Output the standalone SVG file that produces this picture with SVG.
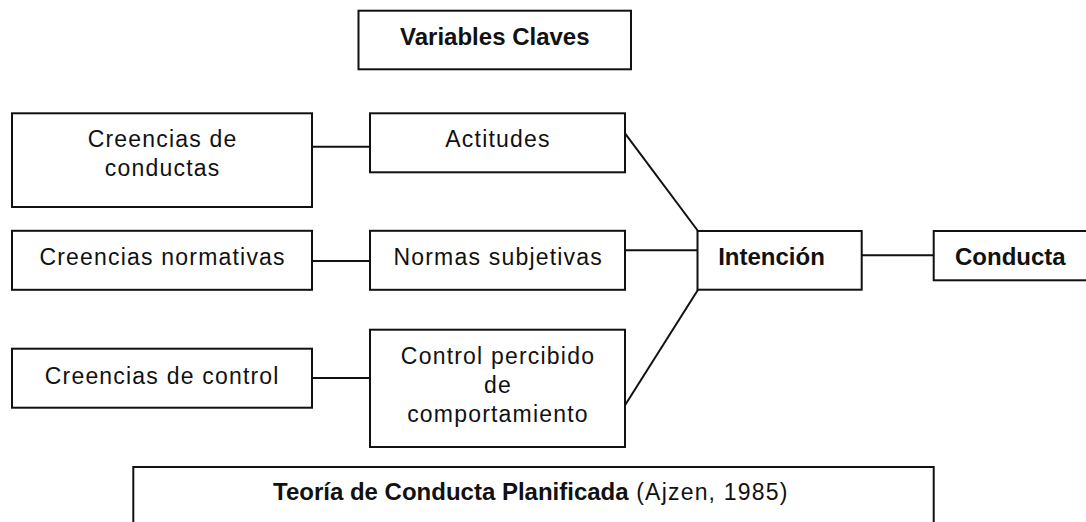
<svg xmlns="http://www.w3.org/2000/svg" width="1086" height="522" viewBox="0 0 1086 522">
<style>
.box{fill:#fff;stroke:#111;stroke-width:2}
.reg{font-family:"Liberation Sans",Arial,sans-serif;font-size:23px;letter-spacing:1.2px;fill:#111}
.bold{font-family:"Liberation Sans",Arial,sans-serif;font-size:24px;font-weight:bold;fill:#111}
.mid{text-anchor:middle}
.conn{stroke:#111;stroke-width:2;fill:none}
</style>
<rect width="1086" height="522" fill="#fff"/>
<g id="connectors">
<line class="conn" x1="312" y1="146.7" x2="373.5" y2="146.7"/>
<line class="conn" x1="312" y1="261" x2="370" y2="261"/>
<line class="conn" x1="312" y1="378" x2="370" y2="378"/>
<line class="conn" x1="625" y1="133.3" x2="698" y2="231"/>
<line class="conn" x1="625" y1="250.3" x2="698" y2="250.3"/>
<line class="conn" x1="625" y1="405.3" x2="698" y2="289.7"/>
<line class="conn" x1="861.7" y1="255.3" x2="933.7" y2="255.3"/>
</g>
<g id="variables-claves">
<rect class="box" x="358.5" y="10.7" width="272.5" height="58.6"/>
<text class="bold mid" x="494.8" y="45">Variables Claves</text>
</g>
<g id="creencias-conductas">
<rect class="box" x="12" y="113.3" width="300" height="93.7"/>
<text class="reg mid" x="162.6" y="147.3">Creencias de</text>
<text class="reg mid" x="162.6" y="175.7">conductas</text>
</g>
<g id="actitudes">
<rect class="box" x="370" y="113.3" width="255" height="59"/>
<text class="reg mid" x="498" y="146.7">Actitudes</text>
</g>
<g id="creencias-normativas">
<rect class="box" x="12" y="230.8" width="300" height="59"/>
<text class="reg mid" x="162.6" y="264.8">Creencias normativas</text>
</g>
<g id="normas-subjetivas">
<rect class="box" x="370" y="230.8" width="255" height="59"/>
<text class="reg mid" x="498.2" y="265">Normas subjetivas</text>
</g>
<g id="creencias-control">
<rect class="box" x="12" y="348.7" width="300" height="59"/>
<text class="reg mid" x="162.2" y="383.7">Creencias de control</text>
</g>
<g id="control-percibido">
<rect class="box" x="370" y="329.7" width="255" height="117.3"/>
<text class="reg mid" x="498" y="363.7">Control percibido</text>
<text class="reg mid" x="498" y="393.2">de</text>
<text class="reg mid" x="498" y="421.5">comportamiento</text>
</g>
<g id="intencion">
<rect class="box" x="697.5" y="231" width="164.2" height="58.7"/>
<text class="bold mid" x="771.5" y="264.7">Intención</text>
</g>
<g id="conducta">
<rect class="box" x="933.7" y="231" width="200" height="49.3"/>
<text class="bold" x="955" y="265.3">Conducta</text>
</g>
<g id="teoria">
<rect class="box" x="133.3" y="467" width="800.4" height="80"/>
<text x="273" y="499.8"><tspan class="bold">Teoría de Conducta Planificada</tspan><tspan class="reg"> (Ajzen, 1985)</tspan></text>
</g>
</svg>
